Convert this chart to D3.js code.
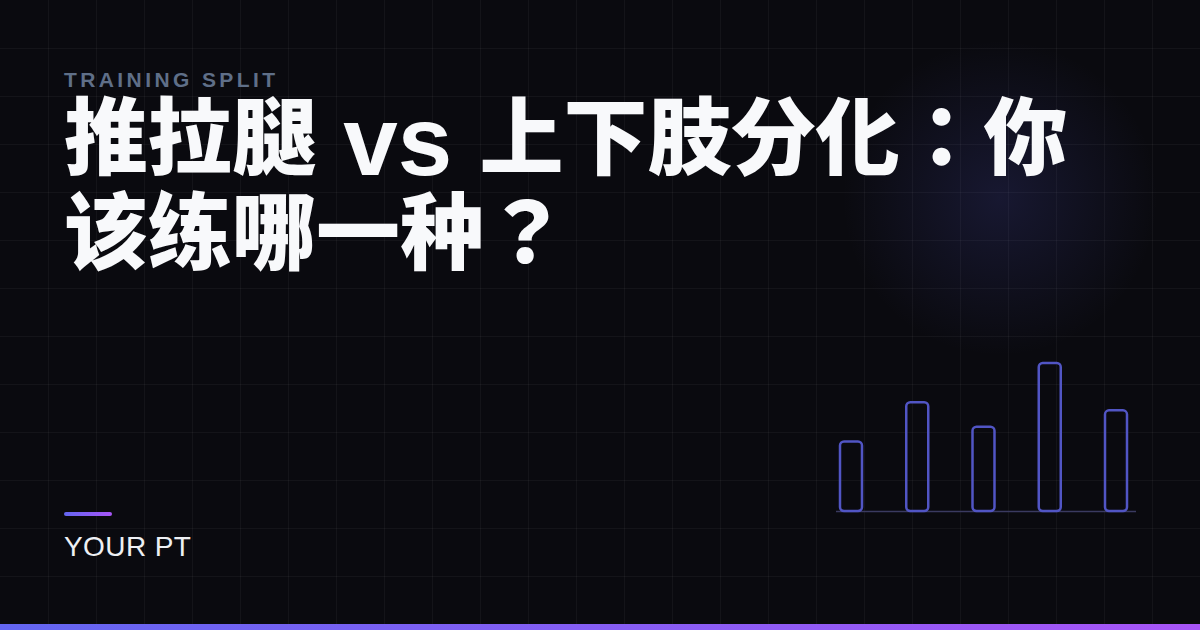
<!DOCTYPE html>
<html>
<head>
<meta charset="utf-8">
<script src="https://cdn.jsdelivr.net/npm/d3@7/dist/d3.min.js"></script>
<style>
  html, body { margin: 0; padding: 0; background: #0a0a0f; }
  svg { display: block; }
</style>
</head>
<body>
<svg id="chart" width="1200" height="630"></svg>
<script>
// ---- data ----
const eyebrow = "TRAINING SPLIT";
const titleLine1 = ["推拉腿", " vs ", "上下肢分化：你"];
const titleLine2 = ["该练哪一种？"];
const brand = "YOUR PT";
const barCategories = ["1", "2", "3", "4", "5"];
const barValues = [47, 73.5, 57, 100, 68];

// ---- drawing ----
const W = 1200, H = 630;
const svg = d3.select("#chart");
const defs = svg.append("defs");

const grad = defs.append("linearGradient").attr("id", "accent")
  .attr("x1", "0%").attr("x2", "100%").attr("y1", "0%").attr("y2", "0%");
grad.append("stop").attr("offset", "0%").attr("stop-color", "#6366f1");
grad.append("stop").attr("offset", "100%").attr("stop-color", "#a855f7");

const glow = defs.append("radialGradient").attr("id", "glow");
glow.append("stop").attr("offset", "0%").attr("stop-color", "#6366f1").attr("stop-opacity", 0.15);
glow.append("stop").attr("offset", "60%").attr("stop-color", "#6366f1").attr("stop-opacity", 0.06);
glow.append("stop").attr("offset", "100%").attr("stop-color", "#6366f1").attr("stop-opacity", 0);

svg.append("rect").attr("width", W).attr("height", H).attr("fill", "#0a0a0f");

// grid
const grid = svg.append("g").attr("stroke", "#ffffff").attr("stroke-opacity", 0.045).attr("stroke-width", 1);
d3.range(48, W, 48).forEach(x => grid.append("line").attr("x1", x + 0.5).attr("x2", x + 0.5).attr("y1", 0).attr("y2", H));
d3.range(48, H, 48).forEach(y => grid.append("line").attr("y1", y + 0.5).attr("y2", y + 0.5).attr("x1", 0).attr("x2", W));

// glow
svg.append("circle").attr("cx", 1000).attr("cy", 198).attr("r", 158).attr("fill", "url(#glow)");

// eyebrow
svg.append("text").attr("x", 64).attr("y", 86.5)
  .attr("font-family", "'Liberation Sans', Arial, sans-serif")
  .attr("font-weight", 700).attr("font-size", 21).attr("letter-spacing", 3.4)
  .attr("fill", "#5f6f88").text(eyebrow);

// title
const cjkFont = "'Noto Sans CJK JP', 'Noto Sans CJK SC', sans-serif";
const latinFont = "'Liberation Sans', Arial, sans-serif";
const title = svg.append("text")
  .style("white-space", "pre")
  .attr("font-family", cjkFont)
  .attr("font-weight", 900).attr("font-size", 84).attr("fill", "#f8f9fb");

title.append("tspan").attr("x", 64).attr("y", 168).text(titleLine1[0]);
title.append("tspan").attr("dy", 7)
  .attr("font-family", latinFont).attr("font-weight", 700).attr("font-size", 98)
  .text(titleLine1[1]);
title.append("tspan").attr("dy", -7).text(titleLine1[2]);
title.append("tspan").attr("x", 64).attr("y", 263).text(titleLine2[0]);

// accent line
svg.append("rect").attr("x", 64).attr("y", 512).attr("width", 48).attr("height", 4)
  .attr("rx", 2).attr("fill", "url(#accent)");

// brand
svg.append("text").attr("x", 64).attr("y", 556)
  .attr("font-family", "'Liberation Sans', Arial, sans-serif")
  .attr("font-size", 28).attr("letter-spacing", 0.4)
  .attr("fill", "#eef0f4").text(brand);

// bottom bar
svg.append("rect").attr("x", 0).attr("y", 624).attr("width", W).attr("height", 6).attr("fill", "url(#accent)");

// mini bar chart
const x = d3.scaleBand().domain(barCategories).range([840, 1127]).paddingInner(0.668).paddingOuter(0);
const y = d3.scaleLinear().domain([0, 100]).range([511, 363]);

svg.append("line").attr("x1", 836).attr("x2", 1136).attr("y1", 511.5).attr("y2", 511.5)
  .attr("stroke", "#3a3a60").attr("stroke-width", 1.5);

svg.append("g").selectAll("rect").data(barValues).join("rect")
  .attr("x", (d, i) => x(barCategories[i]))
  .attr("y", d => y(d))
  .attr("width", x.bandwidth())
  .attr("height", d => y(0) - y(d))
  .attr("rx", 4)
  .attr("fill", "none")
  .attr("stroke", "#5155c4")
  .attr("stroke-width", 2.5);
</script>
</body>
</html>
